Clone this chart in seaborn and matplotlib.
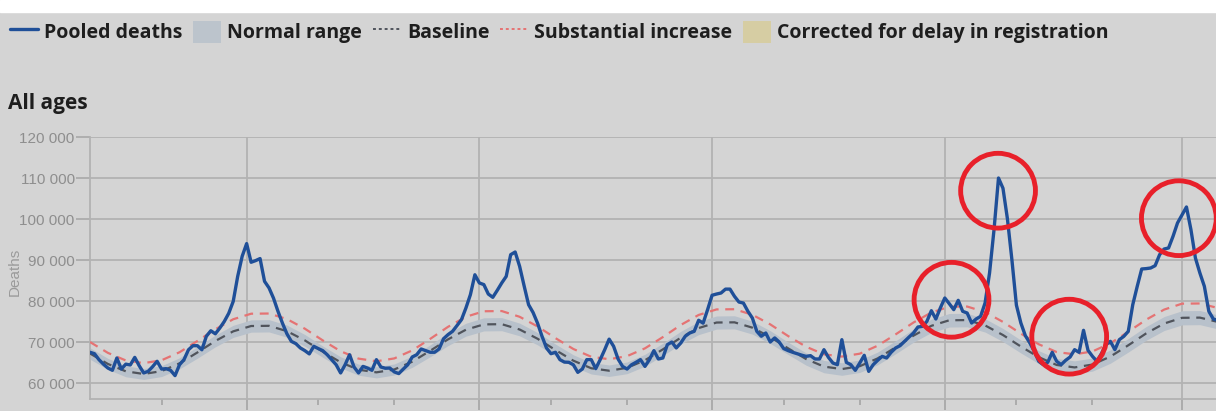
import matplotlib
matplotlib.use("Agg")
import matplotlib.pyplot as plt
from matplotlib.lines import Line2D
from matplotlib.patches import Patch, Rectangle
from matplotlib.ticker import FuncFormatter
import numpy as np
import pandas as pd
import seaborn as sns

# weekly pooled deaths, first value is 2016 week 18
deaths = [
    67500, 67150, 65700, 64600, 63650, 63100, 66100, 63400, 64600, 64400,
    66250, 64200, 62450, 62850, 64000, 65300, 63400, 63500, 63100, 61800,
    64450, 65700, 68100, 69100, 69100, 68100, 71400, 72750, 72000, 73400,
    75000, 77000, 79900, 86000, 90900, 94000, 89450, 89850, 90350, 84800,
    83200, 80700, 77500, 74600, 72000, 70150, 69600, 68550, 67900, 67100,
    68950, 68400, 67900, 66900, 65700, 64450, 62450, 64450, 66900, 63900,
    62450, 64050, 63650, 63100, 65700, 63900, 63600, 63650, 62700, 62300,
    63400, 64450, 66350, 66900, 68300, 67900, 67500, 67500, 68300, 70800,
    71800, 72600, 74000, 75450, 78300, 81550, 86400, 84400, 84000, 81700,
    80900, 82600, 84400, 86000, 91300, 91950, 88450, 83700, 79100, 77200,
    74600, 71400, 68550, 67150, 67500, 65700, 65100, 65050, 64450, 62600,
    63400, 65700, 65700, 63500, 65700, 68100, 70700, 68950, 65850, 64050,
    63400, 64450, 65050, 65700, 64050, 65700, 67900, 65850, 66100, 69350,
    70000, 68550, 69750, 71400, 72200, 72600, 75300, 74600, 77900, 81400,
    81700, 81950, 82900, 82900, 81150, 79750, 79500, 77500, 75850, 72600,
    71400, 72200, 70000, 71000, 70000, 68400, 67900, 67500, 67150, 66800,
    66500, 66670, 65860, 65860, 68130, 66250, 64880, 64470, 70570, 65040,
    64470, 63090, 64880, 66750, 62840, 64470, 65530, 66500, 66100, 67480,
    68540, 69100, 70160, 71200, 72200, 73660, 73820, 75040, 77640, 75610,
    78290, 80730, 79350, 77890, 80160, 77480, 77070, 74630, 75610, 76260,
    79510, 86830, 97400, 110000, 107500, 100000, 90000, 79000, 74630, 71550,
    69760, 67730, 65290, 64470, 65040, 67480, 65290, 64470, 65530, 66340,
    68130, 67480, 72850, 67970, 66500, 65290, 67160, 69350, 70160, 68130,
    70570, 71380, 72600, 79100, 83580, 87810, 87900, 88050, 88620, 91300,
    92680, 92930, 95780, 99030, 101000, 102930, 97400, 90490, 86830, 83580,
    77480, 75610, 75280,
]

# baseline and substantial increase threshold, read every 4th week
curve_weeks = list(range(0, 253, 4))
baseline = [
    67200, 64650, 62850, 62200, 62900, 64800, 67450, 70250, 72600, 73900,
    73950, 72650, 70400, 67650, 65050, 63250, 62600, 63300, 65200, 67850,
    70650, 73000, 74300, 74350, 73050, 70800, 68050, 65450, 63600, 63000,
    63700, 65550, 68200, 71050, 73400, 74750, 74800, 73500, 71200, 68450,
    65850, 64000, 63400, 64100, 66000, 68700, 71550, 73950, 75300, 75350,
    74050, 71700, 68900, 66300, 64400, 63800, 64500, 66450, 69200, 72100,
    74500, 75900, 75950, 74900,
]
substantial = [
    70000, 67350, 65500, 64850, 65550, 67500, 70250, 73100, 75550, 76900,
    76950, 75600, 73250, 70400, 67750, 65950, 65300, 66000, 67950, 70750,
    73700, 76150, 77500, 77550, 76150, 73800, 70950, 68300, 66400, 65800,
    66550, 68450, 71200, 74150, 76600, 77950, 78000, 76650, 74300, 71450,
    68850, 67000, 66450, 67150, 69100, 71850, 74750, 77200, 78600, 78650,
    77300, 74900, 72050, 69450, 67550, 67000, 67700, 69700, 72500, 75450,
    77900, 79350, 79400, 78300,
]

year_weeks = [35, 87, 139, 191, 244]
year_labels = ["2017", "2018", "2019", "2020", "2021"]
minor_weeks = [16, 51, 68, 103, 120, 155, 172, 207, 224]
minor_labels = ["34", "17", "34", "17", "34", "17", "34", "17", "34"]

# red highlight circles drawn on the chart
circle_weeks = [192.5, 202.9, 218.8, 243.3]
circle_values = [80300, 106900, 71300, 100200]

BG = "#d4d4d4"
GRID = "#b2b2b2"
TICK = "#8e8e8e"
BLUE = "#1f4f98"

sns.set_theme(style="whitegrid", rc={
    "axes.facecolor": BG,
    "figure.facecolor": BG,
    "grid.color": GRID,
    "grid.linewidth": 1.3,
})
plt.rcParams["font.family"] = ["Open Sans", "DejaVu Sans"]

fig = plt.figure(figsize=(12.16, 4.11), dpi=100)
fig.patches.append(Rectangle((0, 1 - 12 / 411), 1, 12 / 411, transform=fig.transFigure,
                             color="white", zorder=0))
ax = fig.add_axes([90 / 1216, 1 - 399 / 411, 1 - 90 / 1216, 262 / 411])

curves = pd.DataFrame({"week": curve_weeks, "baseline": baseline, "substantial": substantial})
z = (curves["substantial"] - curves["baseline"]) / 4
ax.fill_between(curves["week"], curves["baseline"] - 2 * z, curves["baseline"] + 2 * z,
                color="#b8c1cb", lw=0, zorder=2)
sns.lineplot(data=curves, x="week", y="baseline", ax=ax, color="#50545c", lw=1.6,
             linestyle=(0, (4, 3)), zorder=3)
sns.lineplot(data=curves, x="week", y="substantial", ax=ax, color="#e57373", lw=1.6,
             linestyle=(0, (4, 3)), zorder=3)

df = pd.DataFrame({"week": range(len(deaths)), "deaths": deaths})
sns.lineplot(data=df, x="week", y="deaths", ax=ax, color=BLUE, lw=2.4, zorder=4)

ax.scatter(circle_weeks, circle_values, s=2900, facecolors="none", edgecolors="#e8202a",
           linewidths=3.5, zorder=5, clip_on=False)

ax.set_xlim(0, 251.6)
ax.set_ylim(56100, 120000)
ax.set_yticks(range(60000, 120001, 10000))
ax.yaxis.set_major_formatter(FuncFormatter(lambda v, p: f"{v:,.0f}".replace(",", " ")))
ax.set_xticks(year_weeks)
ax.set_xticklabels(year_labels)
ax.set_xticks(minor_weeks, minor=True)
ax.set_xticklabels(minor_labels, minor=True)
ax.grid(axis="x", which="minor", visible=False)
ax.grid(axis="both", which="major", visible=True)

for s in ["top", "right"]:
    ax.spines[s].set_visible(False)
for s in ["left", "bottom"]:
    ax.spines[s].set_visible(True)
    ax.spines[s].set_color(GRID)
    ax.spines[s].set_linewidth(1.3)

ax.tick_params(axis="y", length=10, width=1.2, color="#a8a8a8", pad=1,
               labelsize=11, labelcolor=TICK, left=True)
ax.tick_params(axis="x", which="major", length=8, width=1.3, color="#a8a8a8", pad=1,
               labelsize=9.5, labelcolor=TICK, bottom=True)
ax.tick_params(axis="x", which="minor", length=4, width=1.3, color="#a8a8a8", pad=5,
               labelsize=9.5, labelcolor=TICK, bottom=True)
for lab in ax.get_yticklabels() + ax.get_xticklabels() + ax.get_xticklabels(minor=True):
    lab.set_family(["Liberation Sans", "DejaVu Sans"])

ax.set_xlabel("")
ax.set_ylabel("Deaths", fontsize=11, color="#9a9a9a", family=["Liberation Sans", "DejaVu Sans"])
ax.yaxis.set_label_coords(-0.061, 0.485)

fig.text(8 / 1216, 1 - 103 / 411, "All ages", fontsize=15, weight="bold",
         color="#1e1e1e", va="center", ha="left")

handles = [
    Line2D([], [], color=BLUE, lw=2.4),
    Patch(facecolor="#bcc4cc", edgecolor="none"),
    Line2D([], [], color="#50545c", lw=1.4, linestyle=(0, (1.5, 1.5))),
    Line2D([], [], color="#e57373", lw=1.4, linestyle=(0, (1.5, 1.5))),
    Patch(facecolor="#d6cda3", edgecolor="none"),
]
labels = ["Pooled deaths", "Normal range", "Baseline", "Substantial increase",
          "Corrected for delay in registration"]
fig.legend(handles, labels, loc="center left", bbox_to_anchor=(0.008, 1 - 32 / 411),
           ncol=5, frameon=False, handlelength=1.45, handleheight=1.35, handletextpad=0.3,
           columnspacing=0.56, borderaxespad=0, borderpad=0,
           prop={"family": ["Open Sans", "DejaVu Sans"], "weight": "bold", "size": 14},
           labelcolor="#1e1e1e")

fig.savefig("out.png", dpi=100, facecolor=BG)
